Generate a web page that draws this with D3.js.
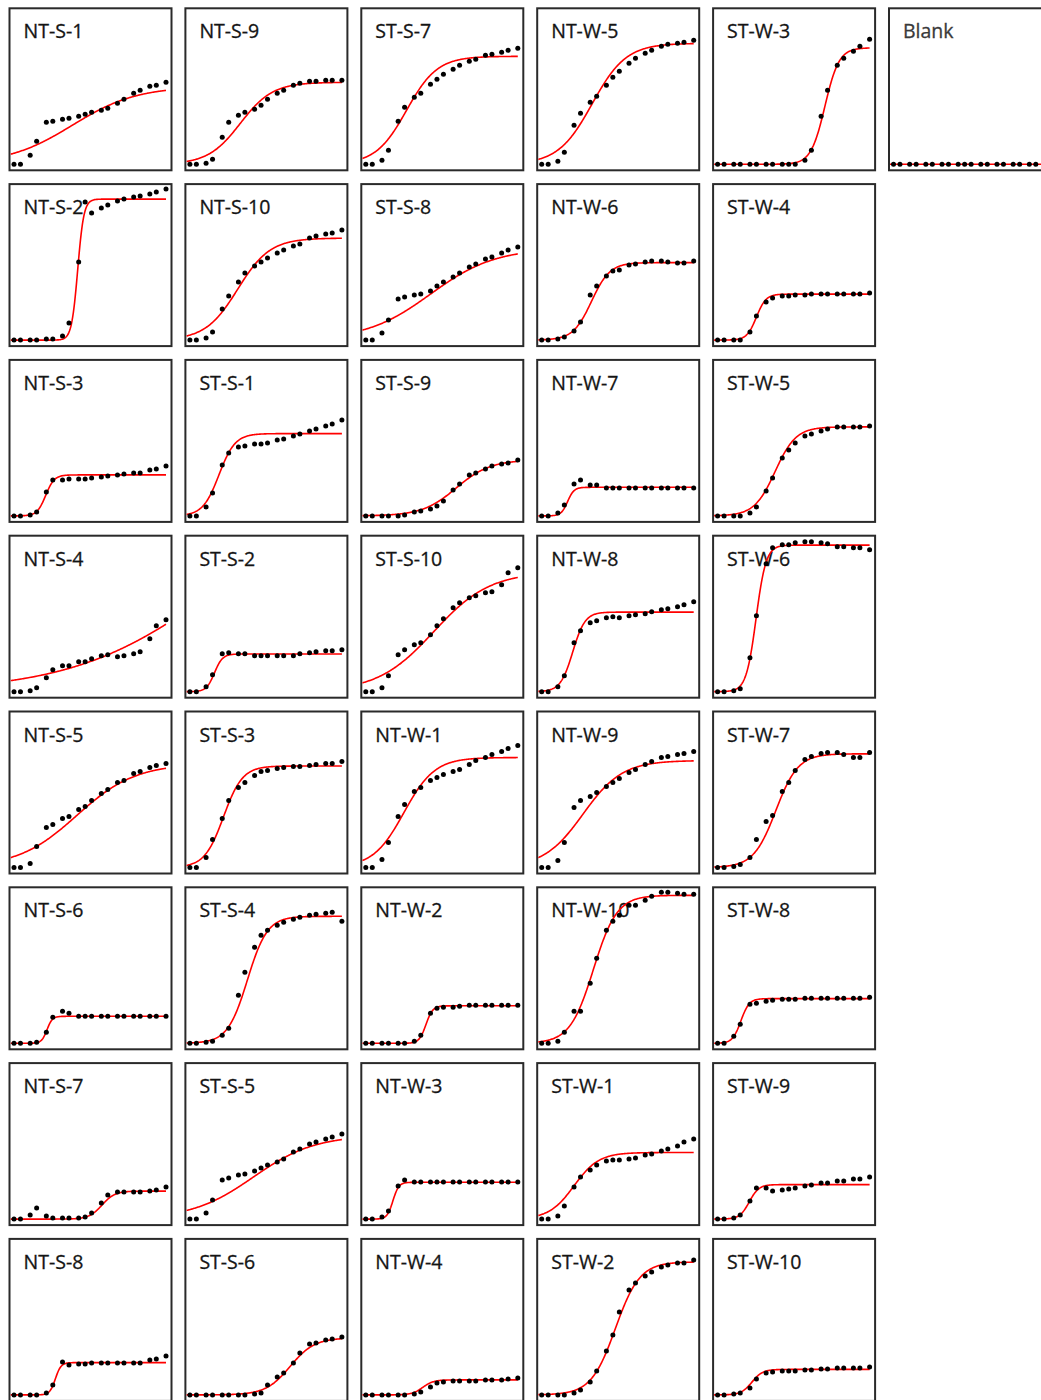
<!DOCTYPE html>
<html>
<head>
<meta charset="utf-8">
<script src="https://cdn.jsdelivr.net/npm/d3@7"></script>
<style>
  body { margin: 0; background: #ffffff; }
  .panel-label {
    font-family: "Open Sans", "Noto Sans", sans-serif;
    font-size: 19.5px;
    fill: #141414;
    stroke: #141414;
    stroke-width: 0.3px;
  }
</style>
</head>
<body>
<div id="chart"></div>
<script>
// Sampling times (h), the same for every well
const times = [0, 1, 2.5, 3.5, 5, 6, 7.5, 8.5, 10, 11, 12, 13.5, 14.5, 16, 17, 18.5, 19.5, 21, 22, 23.5];

// Well names, filled column by column (8 per column)
const sampleNames = [
    "NT-S-1", "NT-S-2", "NT-S-3", "NT-S-4", "NT-S-5", "NT-S-6", "NT-S-7", "NT-S-8", "NT-S-9", "NT-S-10",
    "ST-S-1", "ST-S-2", "ST-S-3", "ST-S-4", "ST-S-5", "ST-S-6", "ST-S-7", "ST-S-8", "ST-S-9", "ST-S-10",
    "NT-W-1", "NT-W-2", "NT-W-3", "NT-W-4", "NT-W-5", "NT-W-6", "NT-W-7", "NT-W-8", "NT-W-9", "NT-W-10",
    "ST-W-1", "ST-W-2", "ST-W-3", "ST-W-4", "ST-W-5", "ST-W-6", "ST-W-7", "ST-W-8", "ST-W-9", "ST-W-10",
    "Blank"
];

// Measured growth (OD) per well, one row per name above
const odValues = [
    [0, 0, 0.09, 0.23, 0.42, 0.43, 0.45, 0.46, 0.48, 0.50, 0.52, 0.54, 0.56, 0.61, 0.65, 0.71, 0.74, 0.78, 0.79, 0.82],
    [0, 0, 0, 0, 0.01, 0.01, 0.04, 0.17, 0.78, 1.38, 1.27, 1.32, 1.35, 1.39, 1.41, 1.43, 1.44, 1.46, 1.48, 1.51],
    [0, 0, 0.01, 0.04, 0.24, 0.36, 0.36, 0.37, 0.37, 0.37, 0.38, 0.39, 0.40, 0.41, 0.42, 0.43, 0.43, 0.46, 0.47, 0.50],
    [0, 0, 0.01, 0.04, 0.14, 0.22, 0.26, 0.26, 0.30, 0.30, 0.33, 0.36, 0.37, 0.35, 0.36, 0.38, 0.40, 0.53, 0.66, 0.72],
    [0, 0, 0.04, 0.21, 0.40, 0.43, 0.49, 0.51, 0.58, 0.61, 0.67, 0.74, 0.78, 0.85, 0.87, 0.94, 0.96, 1.00, 1.02, 1.04],
    [0, 0, 0, 0.01, 0.11, 0.26, 0.32, 0.30, 0.27, 0.27, 0.27, 0.27, 0.27, 0.27, 0.27, 0.27, 0.27, 0.27, 0.27, 0.27],
    [0, 0, 0.04, 0.11, 0.03, 0.01, 0.01, 0.01, 0.01, 0.02, 0.06, 0.16, 0.24, 0.27, 0.27, 0.27, 0.27, 0.28, 0.29, 0.32],
    [0, 0, 0, 0, 0.02, 0.10, 0.33, 0.30, 0.31, 0.31, 0.32, 0.32, 0.32, 0.32, 0.32, 0.32, 0.32, 0.35, 0.36, 0.39],
    [0, 0, 0.01, 0.05, 0.27, 0.42, 0.49, 0.52, 0.55, 0.59, 0.65, 0.71, 0.74, 0.79, 0.81, 0.83, 0.83, 0.84, 0.84, 0.84],
    [0, 0, 0.02, 0.08, 0.31, 0.44, 0.58, 0.67, 0.74, 0.78, 0.82, 0.87, 0.90, 0.94, 0.96, 1.02, 1.04, 1.06, 1.07, 1.10],
    [0, 0, 0.09, 0.23, 0.51, 0.63, 0.69, 0.70, 0.72, 0.72, 0.73, 0.76, 0.77, 0.80, 0.82, 0.85, 0.87, 0.90, 0.92, 0.96],
    [0, 0, 0.05, 0.17, 0.38, 0.39, 0.38, 0.38, 0.36, 0.36, 0.36, 0.36, 0.36, 0.36, 0.38, 0.39, 0.40, 0.41, 0.41, 0.42],
    [0, 0, 0.10, 0.28, 0.49, 0.67, 0.80, 0.85, 0.92, 0.96, 0.97, 0.99, 1.00, 1.01, 1.01, 1.02, 1.03, 1.04, 1.04, 1.06],
    [0, 0, 0.01, 0.02, 0.08, 0.15, 0.48, 0.71, 0.96, 1.08, 1.13, 1.18, 1.21, 1.24, 1.26, 1.28, 1.29, 1.30, 1.31, 1.22],
    [0, 0, 0.06, 0.19, 0.39, 0.41, 0.44, 0.45, 0.48, 0.51, 0.54, 0.57, 0.60, 0.67, 0.70, 0.75, 0.77, 0.80, 0.82, 0.85],
    [0, 0, 0, 0, 0, 0, 0, 0, 0.01, 0.02, 0.10, 0.18, 0.22, 0.32, 0.42, 0.51, 0.52, 0.55, 0.56, 0.58],
    [0, 0, 0.04, 0.14, 0.43, 0.57, 0.67, 0.71, 0.80, 0.85, 0.90, 0.95, 0.99, 1.03, 1.05, 1.09, 1.10, 1.12, 1.14, 1.16],
    [0, 0, 0.07, 0.20, 0.41, 0.43, 0.45, 0.46, 0.49, 0.54, 0.58, 0.63, 0.67, 0.73, 0.76, 0.81, 0.83, 0.87, 0.90, 0.93],
    [0, 0, 0, 0, 0, 0.01, 0.04, 0.05, 0.07, 0.10, 0.15, 0.26, 0.32, 0.41, 0.43, 0.47, 0.50, 0.52, 0.53, 0.56],
    [0, 0, 0.04, 0.16, 0.37, 0.42, 0.47, 0.49, 0.57, 0.66, 0.73, 0.84, 0.89, 0.94, 0.96, 0.99, 1.00, 1.07, 1.19, 1.24],
    [0, 0, 0.08, 0.25, 0.51, 0.63, 0.76, 0.80, 0.87, 0.90, 0.93, 0.96, 0.98, 1.03, 1.07, 1.10, 1.13, 1.16, 1.19, 1.22],
    [0, 0, 0, 0, 0, 0, 0.02, 0.08, 0.30, 0.35, 0.36, 0.36, 0.37, 0.38, 0.38, 0.38, 0.38, 0.38, 0.38, 0.38],
    [0, 0, 0.02, 0.08, 0.33, 0.39, 0.37, 0.37, 0.37, 0.37, 0.37, 0.37, 0.37, 0.37, 0.37, 0.37, 0.37, 0.37, 0.37, 0.37],
    [0, 0, 0, 0, 0, 0, 0.01, 0.03, 0.08, 0.12, 0.13, 0.14, 0.14, 0.14, 0.14, 0.15, 0.15, 0.15, 0.16, 0.17],
    [0, 0, 0.03, 0.12, 0.39, 0.51, 0.62, 0.68, 0.79, 0.87, 0.93, 1.01, 1.06, 1.11, 1.14, 1.18, 1.20, 1.21, 1.22, 1.24],
    [0, 0, 0.01, 0.03, 0.09, 0.18, 0.45, 0.54, 0.64, 0.69, 0.70, 0.75, 0.76, 0.78, 0.79, 0.79, 0.78, 0.77, 0.77, 0.79],
    [0, 0, 0.03, 0.11, 0.32, 0.36, 0.31, 0.31, 0.28, 0.28, 0.28, 0.28, 0.28, 0.28, 0.28, 0.28, 0.28, 0.28, 0.28, 0.28],
    [0, 0, 0.05, 0.16, 0.49, 0.61, 0.69, 0.71, 0.74, 0.75, 0.74, 0.76, 0.77, 0.78, 0.80, 0.82, 0.83, 0.85, 0.87, 0.90],
    [0, 0, 0.07, 0.25, 0.60, 0.67, 0.71, 0.75, 0.81, 0.85, 0.89, 0.95, 0.98, 1.03, 1.06, 1.10, 1.11, 1.13, 1.14, 1.16],
    [0, 0, 0.02, 0.11, 0.32, 0.32, 0.60, 0.85, 1.13, 1.22, 1.28, 1.38, 1.38, 1.43, 1.47, 1.51, 1.51, 1.50, 1.49, 1.49],
    [0, 0, 0.03, 0.13, 0.32, 0.42, 0.49, 0.54, 0.58, 0.59, 0.59, 0.60, 0.61, 0.64, 0.65, 0.68, 0.70, 0.73, 0.77, 0.80],
    [0, 0, 0, 0, 0.02, 0.05, 0.13, 0.24, 0.44, 0.60, 0.83, 1.05, 1.12, 1.19, 1.23, 1.28, 1.30, 1.32, 1.32, 1.35],
    [0, 0, 0, 0, 0, 0, 0, 0, 0, 0, 0, 0.04, 0.14, 0.48, 0.74, 0.99, 1.06, 1.13, 1.18, 1.25],
    [0, 0, 0, 0, 0.08, 0.24, 0.38, 0.42, 0.44, 0.44, 0.45, 0.45, 0.46, 0.46, 0.46, 0.46, 0.46, 0.46, 0.46, 0.47],
    [0, 0, 0, 0, 0.03, 0.09, 0.25, 0.38, 0.58, 0.66, 0.73, 0.80, 0.82, 0.85, 0.87, 0.89, 0.89, 0.89, 0.89, 0.90],
    [0, 0, 0.01, 0.03, 0.34, 0.76, 1.28, 1.44, 1.47, 1.47, 1.49, 1.50, 1.50, 1.49, 1.48, 1.45, 1.45, 1.44, 1.44, 1.42],
    [0, 0, 0.01, 0.03, 0.10, 0.28, 0.46, 0.52, 0.76, 0.85, 0.97, 1.08, 1.11, 1.14, 1.15, 1.15, 1.13, 1.10, 1.10, 1.15],
    [0, 0, 0.07, 0.19, 0.39, 0.40, 0.42, 0.43, 0.44, 0.44, 0.44, 0.45, 0.45, 0.45, 0.45, 0.45, 0.45, 0.45, 0.45, 0.46],
    [0, 0, 0.01, 0.04, 0.18, 0.31, 0.31, 0.28, 0.29, 0.30, 0.31, 0.33, 0.34, 0.36, 0.36, 0.38, 0.38, 0.40, 0.40, 0.42],
    [0, 0, 0.01, 0.02, 0.07, 0.16, 0.22, 0.23, 0.24, 0.24, 0.24, 0.25, 0.25, 0.26, 0.26, 0.27, 0.27, 0.27, 0.27, 0.28],
    [0, 0, 0, 0, 0, 0, 0, 0, 0, 0, 0, 0, 0, 0, 0, 0, 0, 0, 0, 0]
];

// Fitted logistic curve per well: plateau, midpoint (h) and rate
const fitTop = [0.78, 1.41, 0.41, 2.0, 1.04, 0.27, 0.28, 0.323, 0.82, 1.02,
                0.823, 0.377, 1.015, 1.27, 0.84, 0.57, 1.08, 0.92, 0.56, 1.20,
                1.10, 0.375, 0.368, 0.15, 1.21, 0.775, 0.286, 0.796, 1.07, 1.48,
                0.666, 1.33, 1.165, 0.46, 0.89, 1.466, 1.137, 0.447, 0.345, 0.255,
                0];
const fitMid = [9, 9.85, 4.9, 31, 9.7, 5.1, 13.6, 6.4, 7.8, 7.4,
                4.5, 3.8, 5.2, 8.9, 9.8, 15.5, 6.3, 10, 14, 10.5,
                5.9, 9.3, 4.2, 8.8, 7.8, 7.7, 4.0, 4.8, 6.4, 8.0,
                5.0, 11.4, 16.6, 6.0, 8.9, 5.95, 9.0, 3.6, 4.9, 5.3,
                10];
const fitRate = [0.2, 2.1, 1.5, 0.09, 0.22, 2.4, 1.0, 2.3, 0.4, 0.4,
                 0.8, 1.6, 0.68, 0.65, 0.21, 0.53, 0.42, 0.2, 0.38, 0.23,
                 0.42, 1.9, 2.2, 1.2, 0.38, 0.7, 2.0, 1.05, 0.33, 0.55,
                 0.52, 0.53, 0.92, 1.35, 0.62, 1.3, 0.58, 1.55, 1.35, 1.2,
                 1];

// Layout of the grid
const width = 1041;
const height = 1400;
const rowsPerColumn = 8;
const pitchX = 175.9;
const pitchY = 175.8;
const originX = 8.5;
const originY = 7.3;
const panelSize = 164;

const x = d3.scaleLinear().domain([0, 23.5]).range([5.5, 157.5]);
const y = d3.scaleLinear().domain([0, 1.5]).range([157, 7]);

const svg = d3.select('#chart').append('svg')
    .attr('width', width)
    .attr('height', height)
    .style('display', 'block');

// one clip for the fitted curves, in panel coordinates
svg.append('defs').append('clipPath')
    .attr('id', 'panel-clip')
    .append('rect')
    .attr('x', 2)
    .attr('y', 2)
    .attr('width', panelSize - 4)
    .attr('height', panelSize - 4);

const logistic = (t, i) => fitTop[i] / (1 + Math.exp(-fitRate[i] * (t - fitMid[i])));

const line = d3.line()
    .x(d => x(d.t))
    .y(d => y(d.v));

const tStart = x.invert(2);
const curveTimes = d3.range(0, 241).map(k => tStart + (23.5 - tStart) * k / 240);

const panels = svg.selectAll('g.panel')
    .data(sampleNames)
    .enter().append('g')
    .attr('class', 'panel')
    .attr('transform', (d, i) => {
        const col = Math.floor(i / rowsPerColumn);
        const row = i % rowsPerColumn;
        return `translate(${originX + col * pitchX}, ${originY + row * pitchY})`;
    });

panels.append('rect')
    .attr('x', 1)
    .attr('y', 1)
    .attr('width', panelSize - 2)
    .attr('height', panelSize - 2)
    .attr('fill', '#ffffff')
    .attr('stroke', '#2a2a2a')
    .attr('stroke-width', 2);

panels.append('text')
    .attr('class', 'panel-label')
    .attr('x', 15)
    .attr('y', 31)
    .style('fill', d => d === 'Blank' ? '#3a3a3a' : null)
    .style('stroke', d => d === 'Blank' ? '#3a3a3a' : null)
    .text(d => d);

// fitted curve
panels.append('path')
    .attr('clip-path', 'url(#panel-clip)')
    .attr('fill', 'none')
    .attr('stroke', '#ff0000')
    .attr('stroke-width', 1.6)
    .attr('d', (d, i) => line(curveTimes.map(t => ({ t: t, v: logistic(t, i) }))));

// measured points
panels.each(function(d, i) {
    d3.select(this).selectAll('circle')
        .data(odValues[i])
        .enter().append('circle')
        .attr('cx', (v, j) => x(times[j]))
        .attr('cy', v => y(v))
        .attr('r', 2.5)
        .attr('fill', '#000000');
});
</script>
</body>
</html>
